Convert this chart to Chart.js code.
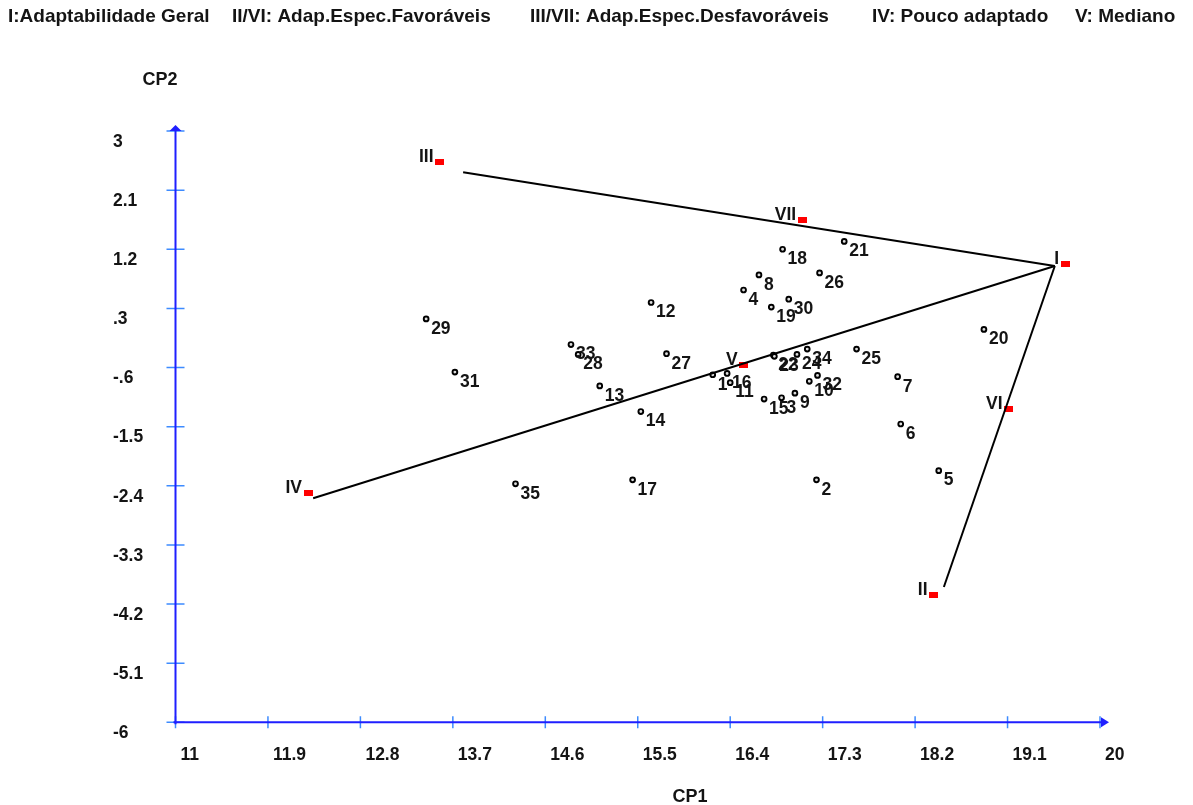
<!DOCTYPE html>
<html>
<head>
<meta charset="utf-8">
<script src="https://cdn.jsdelivr.net/npm/chart.js@4.4.1/dist/chart.umd.min.js"></script>
<style>
  html, body { margin: 0; background: #fff; }
  canvas { display: block; }
</style>
</head>
<body>
<canvas id="chart" width="1193" height="805"></canvas>
<script>
// genotypes and their CP1 / CP2 scores
const genotypes = ['1','2','3','4','5','6','7','8','9','10','11','12','13','14','15','16','17','18',
  '19','20','21','22','23','24','25','26','27','28','29','30','31','32','33','34','35'];
const cp1 = [16.23, 17.24, 16.90, 16.53, 18.43, 18.06, 18.03, 16.68, 17.03, 17.17, 16.40, 15.63,
  15.13, 15.53, 16.73, 16.37, 15.45, 16.91, 16.80, 18.87, 17.51, 16.82, 16.83, 17.05, 17.63, 17.27,
  15.78, 14.92, 13.44, 16.97, 13.72, 17.25, 14.85, 17.15, 14.31];
const cp2 = [-0.71, -2.31, -1.06, 0.58, -2.17, -1.46, -0.74, 0.81, -0.99, -0.81, -0.83, 0.39,
  -0.88, -1.27, -1.08, -0.69, -2.31, 1.20, 0.32, -0.02, 1.32, -0.41, -0.43, -0.40, -0.32, 0.84,
  -0.39, -0.40, 0.14, 0.44, -0.67, -0.72, -0.25, -0.32, -2.37];

// reference points (red)
const refNames = ['I','II','III','IV','V','VI','VII'];
const refCp1 = [19.66, 18.38, 13.57, 12.29, 16.53, 19.11, 17.10];
const refCp2 = [0.97, -4.06, 2.53, -2.51, -0.56, -1.23, 1.65];

// lines leaving the I vertex towards III, IV and II
const vertexCp1 = 19.56;
const vertexCp2 = 0.945;
const lineEndCp1 = [13.80, 12.34, 18.48];
const lineEndCp2 = [2.371, -2.591, -3.941];

// axis ticks
const xTicks = [11, 11.9, 12.8, 13.7, 14.6, 15.5, 16.4, 17.3, 18.2, 19.1, 20];
const xTickLabels = ['11','11.9','12.8','13.7','14.6','15.5','16.4','17.3','18.2','19.1','20'];
const yTicks = [3, 2.1, 1.2, 0.3, -0.6, -1.5, -2.4, -3.3, -4.2, -5.1, -6];
const yTickLabels = ['3','2.1','1.2','.3','-.6','-1.5','-2.4','-3.3','-4.2','-5.1','-6'];

const legendItems = ['I:Adaptabilidade Geral', 'II/VI: Adap.Espec.Favoráveis',
  'III/VII: Adap.Espec.Desfavoráveis', 'IV: Pouco adaptado', 'V: Mediano'];

const FONT = '"Liberation Sans", Arial, sans-serif';
const TXT = '#141414';
const legendX = [8, 232, 530, 872, 1075];

// little red rectangle used as point style for reference points
const redMark = document.createElement('canvas');
redMark.width = 9; redMark.height = 6;
const rm = redMark.getContext('2d');
rm.fillStyle = '#ff0000';
rm.fillRect(0, 0, 9, 6);

const lineSets = lineEndCp1.map((x, i) => ({
  type: 'line',
  data: [{x: vertexCp1, y: vertexCp2}, {x: x, y: lineEndCp2[i]}],
  borderColor: '#000', borderWidth: 2, pointRadius: 0, fill: false, tension: 0
}));

const dotSet = {
  label: 'genotypes',
  data: cp1.map((x, i) => ({x: x, y: cp2[i]})),
  pointStyle: 'circle', pointRadius: 2.4,
  pointBackgroundColor: '#ddd', pointBorderColor: '#000', pointBorderWidth: 1.9
};

const refSet = {
  label: 'refs',
  data: refCp1.map((x, i) => ({x: x, y: refCp2[i]})),
  pointStyle: redMark, pointRadius: 5
};

// blue axes with crossing ticks and arrows
const axesPlugin = {
  id: 'axes',
  beforeDatasetsDraw(chart) {
    const {ctx, chartArea: a, scales: {x, y}} = chart;
    ctx.save();
    ctx.strokeStyle = '#3d8bff';
    ctx.lineWidth = 1.5;
    ctx.beginPath();
    xTicks.forEach(v => {
      const px = x.getPixelForValue(v);
      ctx.moveTo(px, a.bottom - 6); ctx.lineTo(px, a.bottom + 6);
    });
    yTicks.forEach(v => {
      const py = y.getPixelForValue(v);
      ctx.moveTo(a.left - 9, py); ctx.lineTo(a.left + 9, py);
    });
    ctx.stroke();

    ctx.strokeStyle = '#1f1fff';
    ctx.lineWidth = 2;
    ctx.beginPath();
    ctx.moveTo(a.left, a.top - 3); ctx.lineTo(a.left, a.bottom + 2);
    ctx.moveTo(a.left - 2, a.bottom); ctx.lineTo(a.right + 3, a.bottom);
    ctx.stroke();

    ctx.fillStyle = '#1f1fff';
    ctx.beginPath(); // up arrow
    ctx.moveTo(a.left, a.top - 6); ctx.lineTo(a.left - 6, a.top); ctx.lineTo(a.left + 6, a.top);
    ctx.closePath(); ctx.fill();
    ctx.beginPath(); // right arrow
    ctx.moveTo(a.right + 9, a.bottom); ctx.lineTo(a.right + 1, a.bottom - 5); ctx.lineTo(a.right + 1, a.bottom + 5);
    ctx.closePath(); ctx.fill();
    ctx.restore();
  }
};

// texts: legend, axis titles, point labels
const textPlugin = {
  id: 'texts',
  afterDraw(chart) {
    const {ctx} = chart;
    ctx.save();
    ctx.fillStyle = TXT;
    ctx.textBaseline = 'middle';
    ctx.textAlign = 'left';
    ctx.font = 'bold 19px ' + FONT;
    legendItems.forEach((t, i) => ctx.fillText(t, legendX[i], 17));

    ctx.font = 'bold 18px ' + FONT;
    ctx.textAlign = 'center';
    ctx.fillText('CP2', 160, 80);
    ctx.fillText('CP1', 690, 797);

    ctx.font = 'bold 17.5px ' + FONT;
    ctx.textAlign = 'left';
    const dots = chart.getDatasetMeta(lineSets.length).data;
    dots.forEach((p, i) => ctx.fillText(genotypes[i], p.x + 5, p.y + 10));

    ctx.textAlign = 'right';
    const refs = chart.getDatasetMeta(lineSets.length + 1).data;
    refs.forEach((p, i) => ctx.fillText(refNames[i], p.x - 6, p.y - 5));
    ctx.restore();
  }
};

const tickFont = {family: FONT, size: 17.5, weight: 'bold'};

new Chart(document.getElementById('chart').getContext('2d'), {
  type: 'scatter',
  data: {datasets: [...lineSets, dotSet, refSet]},
  options: {
    responsive: false,
    animation: false,
    events: [],
    layout: {padding: {left: 113, right: 93, top: 131, bottom: 0}},
    plugins: {legend: {display: false}, tooltip: {enabled: false}},
    scales: {
      x: {
        type: 'linear', min: 11, max: 20,
        grid: {display: false, drawTicks: false},
        border: {display: false},
        afterBuildTicks: s => { s.ticks = xTicks.map(v => ({value: v})); },
        afterFit: s => { s.height = 82.7; },
        ticks: {
          autoSkip: false, maxRotation: 0, align: 'start', labelOffset: 5, padding: 22,
          color: TXT, font: tickFont,
          callback: (v, i) => xTickLabels[i]
        }
      },
      y: {
        type: 'linear', min: -6, max: 3,
        grid: {display: false, drawTicks: false},
        border: {display: false},
        afterBuildTicks: s => { s.ticks = yTicks.map(v => ({value: v})); },
        afterFit: s => { s.width = 62.5; },
        ticks: {
          autoSkip: false, crossAlign: 'far', labelOffset: 11,
          color: TXT, font: tickFont,
          callback: (v, i) => yTickLabels[i]
        }
      }
    }
  },
  plugins: [axesPlugin, textPlugin]
});
</script>
</body>
</html>
